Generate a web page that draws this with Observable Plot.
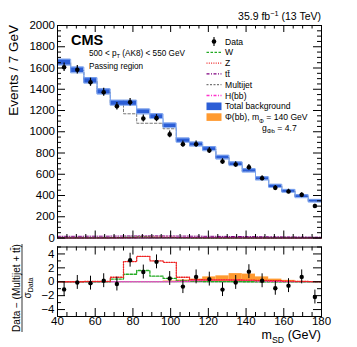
<!DOCTYPE html>
<html><head><meta charset="utf-8">
<script src="https://cdn.jsdelivr.net/npm/d3@7"></script>
<script src="https://cdn.jsdelivr.net/npm/@observablehq/plot@0.6"></script>
<style>
body{margin:0;background:#fff;}
#wrap{position:relative;width:357px;height:347px;overflow:hidden;}
#wrap svg{position:absolute;left:0;overflow:visible;}
</style></head><body><div id="wrap"></div>
<script>
// ---------- data ----------
const binLo = [40,47,54,61,68,75,82,89,96,103,110,117,124,131,138,145,152,159,166,173];
const binWidth = 7;
const dataCounts = [1607,1583,1466,1372,1240,1278,1125,1128,975,883,883,823,720,692,666,563,472,438,406,301];
const totalBkg   = [1654,1581,1482,1378,1272,1272,1190,1146,1060,920,883,840,760,698,635,560,490,443,393,350];
const totalErr   = [28,27,26,25,24,24,23,22,21,20,19,19,18,17,16,15,15,14,14,13];
const multijet   = [1650,1577,1477,1373,1266,1169,1080,1080,1028,915,879,836,757,695,632,557,487,440,390,347];
const ttbarTop   = [16,16,17,17,18,19,20,20,19,18,17,16,15,14,13,12,11,10,9,8];
const wTop       = [1,1,1,2,4,8,12,7,4,2,1,1,1,1,0,0,0,0,0,0];
const zTop       = [1,1,1,1,2,4,8,9,8,4,2,1,1,1,1,0,0,0,0,0];
const hTop       = [0,0,0,0,0,0,1,1,2,3,4,4,4,3,2,1,1,0,0,0];

const pullData   = [-1.1,-0.1,-0.2,0.15,-0.33,3.1,1.4,2.86,0.47,-0.7,0.7,0.38,-1.13,-0.1,1.45,0.14,-0.94,-0.56,0.7,-2.2];
const pullZ      = [0,0,0.05,0.05,0.65,2.9,3.65,3.0,2.8,0.65,0.3,0.28,0.26,0.25,0.24,0.2,0.15,0.1,0.05,0.03];
const pullW      = [0,0,0,0,0.38,1.08,1.62,0.8,0.48,0.14,0.05,0.03,0.02,0.01,0,0,0,0,0,0];
const pullH      = [0,0,0,0,0,0,0,0,0,0.05,0.15,0.22,0.25,0.22,0.18,0.1,0.05,0.02,0,0];
const pullSignal = [0,0,0,0,0,0,0,0,0.1,0.25,0.38,0.7,0.85,1.17,1.1,0.7,0.38,0.2,0.05,0];

const xTickLabels = [40,60,80,100,120,140,160,180];
const yTopLabels = [0,200,400,600,800,1000,1200,1400,1600,1800,2000];
const yPullLabels = [-4,-2,0,2,4];

// ---------- layout ----------
const font = '"Liberation Sans", Arial, Helvetica, sans-serif';
const W = 357, mL = 57, mR = 36, PW = W - mL - mR;
const H1 = 241, mT1 = 25, mB1 = 3.5, PH1 = H1 - mT1 - mB1;
const top2 = 241, H2 = 106, mT2 = 5.5, mB2 = 31, PH2 = H2 - mT2 - mB2;

const rows = binLo.map((lo,i)=>({lo, hi: lo+binWidth, c: lo+binWidth/2, i}));
function steps(vals){ const p = binLo.map((lo,i)=>({x:lo,y:vals[i]})); p.push({x:binLo[binLo.length-1]+binWidth, y:vals[vals.length-1]}); return p; }
const xMinor = d3.range(40,181,5).filter(v=>!xTickLabels.includes(v));

function tickMarks(xMaj, xMin, yMaj, yMin, ph, lenX, lenXm, lenY, lenYm){
  const s = {stroke:"black", strokeWidth:1};
  return [
    Plot.tickX(xMaj,{x:d=>d, insetTop: ph-lenX, ...s}),
    Plot.tickX(xMaj,{x:d=>d, insetBottom: ph-lenX, ...s}),
    Plot.tickX(xMin,{x:d=>d, insetTop: ph-lenXm, ...s}),
    Plot.tickX(xMin,{x:d=>d, insetBottom: ph-lenXm, ...s}),
    Plot.tickY(yMaj,{y:d=>d, insetRight: PW-lenY, ...s}),
    Plot.tickY(yMaj,{y:d=>d, insetLeft: PW-lenY, ...s}),
    Plot.tickY(yMin,{y:d=>d, insetRight: PW-lenYm, ...s}),
    Plot.tickY(yMin,{y:d=>d, insetLeft: PW-lenYm, ...s}),
  ];
}

const yTopMinor = d3.range(0,2001,50).filter(v=>!yTopLabels.includes(v));

const topPlot = Plot.plot({
  width: W, height: H1, marginLeft: mL, marginRight: mR, marginTop: mT1, marginBottom: mB1,
  x:{domain:[40,180], axis:null}, y:{domain:[0,2000], axis:null},
  style:{fontFamily:font, background:"transparent", overflow:"visible"},
  marks:[
    Plot.line(steps(multijet),{x:"x",y:"y",curve:"step-after",stroke:"#777",strokeWidth:1,strokeDasharray:"2.5,2"}),
    Plot.rect(rows,{x1:"lo",x2:"hi",y1:d=>totalBkg[d.i]-totalErr[d.i],y2:d=>totalBkg[d.i]+totalErr[d.i],fill:"#2c5ed6"}),
    Plot.line(steps(totalBkg.map((v,i)=>v+totalErr[i])),{x:"x",y:"y",curve:"step-after",stroke:"#7ea6f0",strokeWidth:0.9}),
    Plot.line(steps(totalBkg.map((v,i)=>v-totalErr[i])),{x:"x",y:"y",curve:"step-after",stroke:"#7ea6f0",strokeWidth:0.9}),
    Plot.line(steps(wTop),{x:"x",y:"y",curve:"step-after",stroke:"#22aa22",strokeWidth:1,strokeDasharray:"2.5,1.5"}),
    Plot.line(steps(zTop),{x:"x",y:"y",curve:"step-after",stroke:"#ee2222",strokeWidth:1,strokeDasharray:"1,1.5"}),
    Plot.line(steps(hTop),{x:"x",y:"y",curve:"step-after",stroke:"#ff33cc",strokeWidth:1,strokeDasharray:"3,1.5,1,1.5"}),
    Plot.line(steps(ttbarTop),{x:"x",y:"y",curve:"step-after",stroke:"#800080",strokeWidth:1,strokeDasharray:"3,1.5,1,1.5"}),
    Plot.ruleX(rows,{x:"c",y1:d=>dataCounts[d.i]-Math.sqrt(dataCounts[d.i]),y2:d=>dataCounts[d.i]+Math.sqrt(dataCounts[d.i]),stroke:"black",strokeWidth:1.2}),
    Plot.dot(rows,{x:"c",y:d=>dataCounts[d.i],r:2.3,fill:"black"}),
    ...tickMarks(xTickLabels, xMinor, yTopLabels, yTopMinor, PH1, 7, 3.5, 8, 4),
    Plot.frame({stroke:"black",strokeWidth:1}),
    Plot.text(yTopLabels,{y:d=>d,text:d=>String(d),frameAnchor:"left",textAnchor:"end",dx:-2.5,fontSize:11.5,fill:"black"})
  ]
});
topPlot.style.top = "0px";

const yPullMinor = [-5,-3,-1,1,3,5];
const pullPlot = Plot.plot({
  width: W, height: H2, marginLeft: mL, marginRight: mR, marginTop: mT2, marginBottom: mB2,
  x:{domain:[40,180], axis:null}, y:{domain:[-5,5], axis:null},
  style:{fontFamily:font, background:"transparent", overflow:"visible"},
  marks:[
    Plot.rect(rows.filter(d=>pullSignal[d.i]>0),{x1:"lo",x2:"hi",y1:0,y2:d=>pullSignal[d.i],fill:"#ff9a30"}),
    Plot.ruleY([0],{stroke:"#999",strokeWidth:1.6}),
    Plot.line(steps(pullW),{x:"x",y:"y",curve:"step-after",stroke:"#22aa22",strokeWidth:1.3,strokeDasharray:"2.5,1.5"}),
    Plot.line(steps(pullH),{x:"x",y:"y",curve:"step-after",stroke:"#ff33cc",strokeWidth:1.2,strokeDasharray:"1.2,1.5"}),
    Plot.line(steps(pullZ),{x:"x",y:"y",curve:"step-after",stroke:"#ee2222",strokeWidth:1.3,strokeDasharray:"1.2,1.3"}),
    Plot.ruleX(rows,{x:"c",y1:d=>pullData[d.i]-1,y2:d=>pullData[d.i]+1,stroke:"black",strokeWidth:1}),
    Plot.dot(rows,{x:"c",y:d=>pullData[d.i],r:2.2,fill:"black"}),
    ...tickMarks(xTickLabels, xMinor, yPullLabels, yPullMinor, PH2, 8, 4, 8, 4),
    Plot.frame({stroke:"black",strokeWidth:1}),
    Plot.text(yPullLabels,{y:d=>d,text:d=>String(d).replace("-","\u2212"),frameAnchor:"left",textAnchor:"end",dx:-3,fontSize:11.5,fill:"black"}),
    Plot.text(xTickLabels,{x:d=>d,text:d=>String(d),frameAnchor:"bottom",lineAnchor:"top",dy:0.5,fontSize:11.5,fill:"black"})
  ]
});
pullPlot.style.top = top2 + "px";

const wrap = document.getElementById("wrap");
wrap.appendChild(topPlot);
wrap.appendChild(pullPlot);

// ---------- overlay texts & legend ----------
const ov = d3.select("#wrap").append("svg").attr("width",W).attr("height",347)
  .style("top","0px").attr("font-family",font).style("pointer-events","none");

function rich(x,y,parts,size,anchor,weight){
  const t = ov.append("text").attr("x",x).attr("y",y).attr("font-size",size)
    .attr("text-anchor",anchor||"start").attr("font-weight",weight||"normal").attr("fill","black");
  let pending = 0;
  parts.forEach(p=>{
    const [s,kind] = Array.isArray(p)?p:[p,null];
    const ts = t.append("tspan").text(s);
    let shift = 0;
    if(kind==="sub"){ ts.attr("font-size",size*0.7); shift = size*0.28; }
    if(kind==="sup"){ ts.attr("font-size",size*0.7); shift = -size*0.38; }
    const dy = pending + shift;
    if(dy) ts.attr("dy",dy);
    pending = -shift;
  });
  return t;
}

rich(321,20,["35.9 fb",["\u22121","sup"]," (13 TeV)"],10.5,"end");
rich(71,45,["CMS"],14.5,"start","bold");
rich(89,56,["500 < p",["T","sub"]," (AK8) < 550 GeV"],8.2,"start");
rich(89,68.5,["Passing region"],8.2,"start");

// y axis title
ov.append("text").attr("transform","translate(18,25) rotate(-90)").attr("text-anchor","end")
  .attr("font-size",13.5).attr("fill","black").text("Events / 7 GeV");

// pull y-axis title (fraction)
const fr = ov.append("g").attr("transform","translate(0,288) rotate(-90)");
fr.append("text").attr("x",0).attr("y",19.5).attr("text-anchor","middle").attr("font-size",10).attr("fill","black")
  .text("Data \u2212 (Multijet + tt\u0304)");
fr.append("line").attr("x1",-44).attr("x2",44).attr("y1",22).attr("y2",22).attr("stroke","black").attr("stroke-width",0.8);
const den = fr.append("text").attr("x",0).attr("y",30.5).attr("text-anchor","middle").attr("font-size",10).attr("fill","black");
den.append("tspan").text("\u03C3");
den.append("tspan").attr("font-size",7).attr("dy",2.8).text("Data");

// x axis title
rich(321,339,["m",["SD","sub"]," (GeV)"],12.5,"end");

// legend
const lx1 = 206.5, lx2 = 221.5, ltx = 225, fs = 8.6;
const leg = [
  {y:41.5, name:["Data"], kind:"data"},
  {y:52.3, name:["W"], kind:"line", color:"#22aa22", dash:"2.5,1.5"},
  {y:63.1, name:["Z"], kind:"line", color:"#ee2222", dash:"1,1.3"},
  {y:73.9, name:["tt\u0304"], kind:"line", color:"#800080", dash:"3,1.5,1,1.5"},
  {y:84.7, name:["Multijet"], kind:"line", color:"#777", dash:"2,1.5"},
  {y:95.5, name:["H(bb)"], kind:"line", color:"#ff33cc", dash:"3,1.5,1,1.5"},
  {y:106.3, name:["Total background"], kind:"box", color:"#2c5ed6"},
  {y:117.1, name:["\u03A6(bb), m",["\u03A6","sub"]," = 140 GeV"], kind:"box", color:"#ff9a30"}
];
leg.forEach(e=>{
  if(e.kind==="data"){
    ov.append("line").attr("x1",(lx1+lx2)/2).attr("x2",(lx1+lx2)/2).attr("y1",e.y-4.5).attr("y2",e.y+4.5).attr("stroke","black").attr("stroke-width",1.1);
    ov.append("circle").attr("cx",(lx1+lx2)/2).attr("cy",e.y).attr("r",2.3).attr("fill","black");
  } else if(e.kind==="line"){
    ov.append("line").attr("x1",lx1).attr("x2",lx2).attr("y1",e.y).attr("y2",e.y).attr("stroke",e.color).attr("stroke-width",1.3).attr("stroke-dasharray",e.dash);
  } else {
    ov.append("rect").attr("x",lx1).attr("y",e.y-3.8).attr("width",lx2-lx1).attr("height",7.6).attr("fill",e.color);
  }
  rich(ltx,e.y+3.1,e.name,fs,"start");
});
rich(262,130.5,["g",["\u03A6b","sub"]," = 4.7"],fs,"start");
</script></body></html>
